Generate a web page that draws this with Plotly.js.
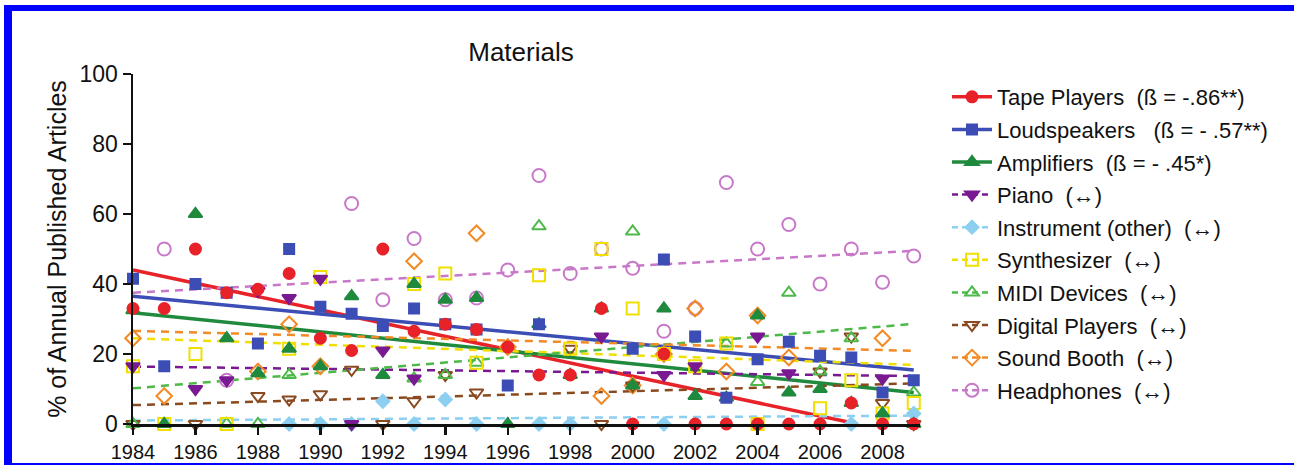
<!DOCTYPE html>
<html><head><meta charset="utf-8">
<script src="https://cdn.plot.ly/plotly-3.0.1.min.js"></script>
<style>
html,body{margin:0;padding:0;background:#fff;overflow:hidden}
#chart{width:1294px;height:465px}
#frame{position:absolute;left:4px;top:5px;width:1300px;height:460px;box-sizing:border-box;border-top:6px solid #0000ff;border-left:8px solid #0000ff;border-bottom:2px solid #0000ff;pointer-events:none}
</style></head><body>
<div id="chart"></div><div id="frame"></div>
<script>
// ---- data ----
const years = [1984,1985,1986,1987,1988,1989,1990,1991,1992,1993,1994,1995,1996,1997,1998,1999,2000,2001,2002,2003,2004,2005,2006,2007,2008,2009];

const tapePlayers   = [33,33,50,37.5,38.5,43,24.5,21,50,26.5,28.5,27,22,14,14,33,0,20,0,0,0,0,0,6,0,0];
const loudspeakers  = [41.5,16.5,40,37.5,23,50,33.5,31.5,28,33,28.5,27,11,28.5,null,null,21.5,47,25,7.5,18.5,23.5,19.5,19,9,12.5];
const amplifiers    = [32.5,0,60,24.5,14.5,21.5,16.5,36.5,14,40,35.5,36,0,28.5,14,33,11,33,8,7.5,31,9,10,6,3,0];
const piano         = [16.5,null,10,12.5,38,36,41.5,0,21,13,null,null,null,null,null,25,null,14,16.5,null,25,14.5,null,null,13,null];
const instrument    = [null,null,null,null,null,0,0,0,6.5,0,7,0,null,0,0,null,null,0,null,null,null,null,null,0,null,3];
const synthesizer   = [16.5,0,20,0,null,21.5,42,null,null,40,43,17.5,null,42.5,21.5,50,33,20,16.5,23,0,null,4.5,12.5,3,6];
const midiDevices   = [0,null,null,0,0,14,null,null,null,13,14,17.5,null,56.5,null,null,55,null,null,23,12,37.5,15,24.5,null,9];
const digitalPlayers= [0,null,0,null,8,7,8.5,15.5,0,6.5,14,9,null,null,21.5,0,11,null,null,null,null,null,15,25,6,0];
const soundBooth    = [24.5,8,null,null,15,28.5,16.5,null,null,46.5,null,54.5,22,null,null,8,11,20,33,15,31,19,null,null,24.5,null];
const headphones    = [null,50,null,12.5,null,null,null,63,35.5,53,35.5,36,44,71,43,50,44.5,26.5,33,69,50,57,40,50,40.5,48];

const seriesNames = [
  "Tape Players  (ß = -.86**)",
  "Loudspeakers   (ß = - .57**)",
  "Amplifiers  (ß = - .45*)",
  "Piano  (↔)",
  "Instrument (other)  (↔)",
  "Synthesizer  (↔)",
  "MIDI Devices  (↔)",
  "Digital Players  (↔)",
  "Sound Booth  (↔)",
  "Headphones  (↔)"
];
const seriesValues = [tapePlayers, loudspeakers, amplifiers, piano, instrument, synthesizer, midiDevices, digitalPlayers, soundBooth, headphones];

// regression lines (value at start year and at end year)
const fitStartYear = [1984,1984,1984,1984,1984,1984,1984,1984,1984,1984];
const fitStart     = [44, 36.5, 31.8, 16.4, 1, 24.5, 10.2, 5.4, 26.6, 37.5];
const fitEndYear   = [2007.2,2009,2009,2009,2009,2009,2009,2009,2009,2009];
const fitEnd       = [0, 15.4, 9, 13.7, 2.4, 16.9, 28.6, 11.6, 20.9, 49.5];

const xTicks = [1984,1986,1988,1990,1992,1994,1996,1998,2000,2002,2004,2006,2008];
const yTicks = [0,20,40,60,80,100];

// ---- styles ----
const colors = ["#e82229","#3c4db5","#1f8a3e","#7a1a92","#8ccff0","#f0df00","#4db948","#8a4a1f","#f28a25","#c878c8"];
const symbols = ["circle","square","triangle-up","triangle-down","diamond","square-open","triangle-up-open","triangle-down-open","diamond-open","circle-open"];
const sizes = [11,10,12,12,10,12,12,12,12,13];
const solid = [true,true,true,false,false,false,false,false,false,false];

const traces = [];
// trend lines
for (let i = 0; i < seriesValues.length; i++) {
  traces.push({
    x: [fitStartYear[i], fitEndYear[i]], y: [fitStart[i], fitEnd[i]],
    mode: "lines", type: "scatter", showlegend: false, hoverinfo: "skip",
    line: {color: colors[i], width: solid[i] ? 3.5 : 2.5, dash: solid[i] ? "solid" : "8px,6px"}
  });
}
// points (first series drawn last -> on top); nulls interleaved so no connecting line is drawn
for (let i = seriesValues.length - 1; i >= 0; i--) {
  const xs = [], ys = [];
  years.forEach((yr, k) => { xs.push(yr, null); ys.push(seriesValues[i][k], null); });
  traces.push({
    x: xs, y: ys, type: "scatter", mode: "lines+markers", name: seriesNames[i],
    legendrank: i + 1, legendgroup: "g" + i, connectgaps: false, cliponaxis: false,
    line: {color: colors[i], width: solid[i] ? 3.5 : 2.5, dash: solid[i] ? "solid" : "6px,4px"},
    marker: {symbol: symbols[i], size: sizes[i], color: colors[i], line: {color: colors[i], width: 2}}
  });
}

const font = "Liberation Sans, Arial, sans-serif";
const layout = {
  width: 1294, height: 465,
  margin: {l: 133, r: 373.5, t: 74, b: 41, pad: 0},
  paper_bgcolor: "#fff", plot_bgcolor: "#fff",
  font: {family: font, color: "#111"},
  title: {text: "Materials", font: {size: 26, family: font, color: "#111"}, xref: "container", x: 0.4026, xanchor: "center", yref: "container", y: 1 - 52/465, yanchor: "middle"},
  xaxis: {range: [1984, 2009.2], tickvals: xTicks, ticktext: xTicks.map(String), showgrid: false, zeroline: false,
          showline: true, linecolor: "#111", linewidth: 2.5, ticks: "outside", ticklen: 8, tickwidth: 2.5, tickcolor: "#111",
          tickfont: {size: 20, family: font, color: "#111"}, fixedrange: true},
  yaxis: {range: [0, 100], tickvals: yTicks, showgrid: false, zeroline: false,
          showline: true, linecolor: "#111", linewidth: 2.5, ticks: "outside", ticklen: 8, tickwidth: 2.5, tickcolor: "#111",
          tickfont: {size: 23, family: font, color: "#111"},
          title: {text: "% of Annual Published Articles", font: {size: 25, family: font, color: "#111"}, standoff: 6}, fixedrange: true},
  legend: {xref: "container", yref: "container", x: 947/1294, y: 1 - 76/465, xanchor: "left", yanchor: "top",
           font: {size: 22, family: font, color: "#111"}, itemwidth: 40, tracegroupgap: 1, bgcolor: "rgba(0,0,0,0)", borderwidth: 0,
           traceorder: "grouped", maxheight: 420},
  showlegend: true
};
Plotly.newPlot("chart", traces, layout, {displayModeBar: false, staticPlot: true});
</script></body></html>
